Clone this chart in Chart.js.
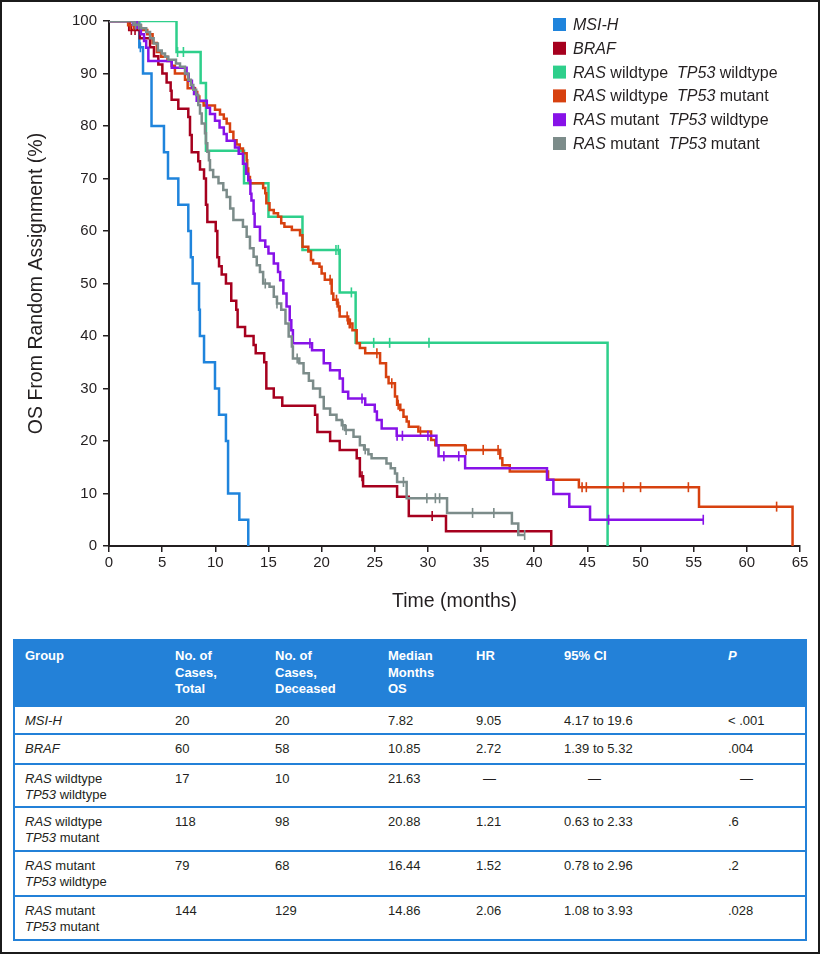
<!DOCTYPE html>
<html>
<head>
<meta charset="utf-8">
<script src="https://cdn.jsdelivr.net/npm/chart.js@4.4.0/dist/chart.umd.min.js"></script>
<style>
  html, body { margin: 0; padding: 0; background: #fff; }
  body { width: 823px; height: 955px; position: relative; overflow: hidden; font-family: "Liberation Sans", Arial, sans-serif; }
  #frame { position: absolute; left: 0; top: 0; width: 820px; height: 954px; box-sizing: border-box; border: 2px solid #1b1b1b; pointer-events: none; }
  #chartWrap { position: absolute; left: 0; top: 0; width: 823px; height: 620px; }
  table.stats { position: absolute; left: 13px; top: 639px; width: 794px; border-collapse: separate; border-spacing: 0; table-layout: fixed; font-size: 13px; color: #231f20; }
  table.stats th { background: #2381d8; color: #fff; font-weight: bold; text-align: left; vertical-align: top; padding: 9px 0 0 12px; line-height: 16.5px; box-sizing: border-box; }
  table.stats td { text-align: left; vertical-align: top; padding: 6px 0 0 12px; line-height: 16px; border-bottom: 2px solid #2381d8; box-sizing: border-box; }
  table.stats td:first-child { border-left: 2px solid #2381d8; padding-left: 10px; }
  table.stats td:last-child { border-right: 2px solid #2381d8; }
  .dash { display: inline-block; }
</style>
</head>
<body>
<div id="chartWrap"><canvas id="km" width="823" height="620"></canvas></div>

<table class="stats">
  <colgroup>
    <col style="width:150px"><col style="width:100px"><col style="width:113px"><col style="width:88px"><col style="width:88px"><col style="width:164px"><col style="width:91px">
  </colgroup>
  <tr style="height:68px">
    <th>Group</th><th>No. of<br>Cases,<br>Total</th><th>No. of<br>Cases,<br>Deceased</th><th>Median<br>Months<br>OS</th><th>HR</th><th>95% CI</th><th><i>P</i></th>
  </tr>
  <tr style="height:28px">
    <td><i>MSI-H</i></td><td>20</td><td>20</td><td>7.82</td><td>9.05</td><td>4.17 to 19.6</td><td>&lt; .001</td>
  </tr>
  <tr style="height:30px">
    <td><i>BRAF</i></td><td>60</td><td>58</td><td>10.85</td><td>2.72</td><td>1.39 to 5.32</td><td>.004</td>
  </tr>
  <tr style="height:43px">
    <td><i>RAS</i> wildtype<br><i>TP53</i> wildtype</td><td>17</td><td>10</td><td>21.63</td><td><span class="dash" style="padding-left:7px">—</span></td><td><span class="dash" style="padding-left:24px">—</span></td><td><span class="dash" style="padding-left:12px">—</span></td>
  </tr>
  <tr style="height:44px">
    <td><i>RAS</i> wildtype<br><i>TP53</i> mutant</td><td>118</td><td>98</td><td>20.88</td><td>1.21</td><td>0.63 to 2.33</td><td>.6</td>
  </tr>
  <tr style="height:45px">
    <td><i>RAS</i> mutant<br><i>TP53</i> wildtype</td><td>79</td><td>68</td><td>16.44</td><td>1.52</td><td>0.78 to 2.96</td><td>.2</td>
  </tr>
  <tr style="height:44px">
    <td><i>RAS</i> mutant<br><i>TP53</i> mutant</td><td>144</td><td>129</td><td>14.86</td><td>2.06</td><td>1.08 to 3.93</td><td>.028</td>
  </tr>
</table>

<div id="frame"></div>

<script>
// Kaplan-Meier curves: time (months) where each step happens, OS (%) after the step
var msiTime = [0, 2.85, 3.2, 4.0, 5.17, 5.55, 6.52, 7.46, 7.7, 7.87, 8.47, 8.55, 8.94, 9.97, 10.35, 11.0, 11.2, 12.26, 13.1];
var msiSurv = [100, 95, 90, 80, 75, 70, 65, 60, 55, 50, 45, 40, 35, 30, 25, 20, 10, 5, 0];
var msiCens = [2.95];

var brafTime = [0, 1.9, 2.9, 3.86, 4.23, 4.64, 5.02, 5.42, 5.8, 5.89, 6.52, 7.46, 7.62, 7.78, 8.4, 8.56, 8.94, 9.12, 9.25, 10.04,
    10.19, 10.35, 10.6, 11.0, 11.5, 11.97, 12.1, 12.8, 13.6, 13.8, 14.6, 14.8, 15.5, 16.3, 19.38, 19.6, 20.8, 21.7, 23.3, 23.6,
    23.9, 27.1, 28.2, 31.7, 41.6];
var brafSurv = [100, 98.3, 96.7, 95, 93.3, 91.7, 90, 88.3, 86.7, 85, 83.3, 81.7, 78.3, 75, 73.3, 71.7, 70, 65, 61.7, 60,
    55, 53.3, 51.7, 50, 46.7, 45, 41.7, 40, 38.3, 36.7, 35, 30, 28.3, 26.7, 25, 21.7, 20, 18.3, 16.7, 13.3,
    11.4, 9.4, 5.7, 2.8, 0];
var brafCens = [2.1, 2.45, 23.8, 30.4];

var wtwtTime = [0, 6.35, 8.62, 9.12, 12.7, 15.0, 18.2, 21.7, 23.2, 46.9];
var wtwtSurv = [100, 94.1, 88.2, 75.3, 69.1, 62.7, 56.4, 48.3, 38.7, 0];
var wtwtCens = [6.45, 7.0, 21.35, 21.57, 22.8, 24.9, 26.4, 30.1];

var wtmtTime = [0, 1.8, 3.0, 3.6, 4.1, 4.5, 4.9, 5.5, 5.9, 6.2, 7.15, 7.4, 8.09, 8.3, 8.5, 8.9, 9.97, 10.44, 10.8, 11.07,
    11.38, 11.7, 12.0, 12.3, 12.6, 12.95, 13.0, 13.1, 13.26, 14.5, 14.7, 14.8, 15.1, 15.5, 15.9, 16.2, 16.5, 17.2, 17.97, 18.2,
    18.75, 19.0, 19.2, 19.8, 20.0, 20.3, 20.95, 21.1, 21.5, 21.7, 22.5, 22.9, 23.3, 23.6, 24.1, 25.5, 26.06, 26.3, 26.9, 27.1,
    27.4, 27.7, 28.0, 28.2, 29.1, 30.3, 30.7, 33.5, 36.8, 37.0, 37.7, 41.3, 44.2, 55.5, 64.3];
var wtmtSurv = [100, 99.2, 98.3, 97.5, 95.8, 94.1, 93.2, 92.4, 91.5, 90, 88.8, 87.2, 86.5, 85.6, 84.7, 83.9, 83.1, 82.2, 81.4, 80.5,
    78.9, 77.3, 76.5, 75.7, 74.8, 73.5, 71.9, 70.3, 69.1, 68.2, 67.2, 65.3, 64, 63.4, 62.7, 61.5, 60.8, 60.2, 59.2, 57,
    56.1, 54.5, 53.8, 53.2, 51.9, 50.7, 48.1, 46.9, 45.6, 43.7, 42.4, 41.1, 38.6, 37.7, 36.7, 34.8, 32.2, 31, 28.5, 26.9,
    25.9, 24.6, 23.7, 22.7, 21.8, 20.2, 19.2, 18.3, 16.7, 15.4, 14.2, 12.6, 11.2, 7.5, 0];
var wtmtCens = [2.0, 2.3, 20.8, 21.4, 21.6, 22.4, 22.6, 22.7, 25.2, 26.6, 27.2, 29.3, 33.6, 35.2, 36.6, 44.5, 44.9, 48.4, 50.0, 54.5, 62.8];

var mtwtTime = [0, 2.6, 3.0, 3.3, 3.5, 3.7, 5.9, 7.3, 7.5, 7.8, 8.0, 8.25, 9.2, 9.5, 9.97, 10.4, 10.8, 11.07, 11.85, 12.2,
    12.6, 12.9, 13.1, 13.3, 13.4, 13.6, 13.7, 14.2, 14.7, 15.0, 15.5, 15.9, 16.1, 16.4, 16.7, 17.0, 17.15, 17.3, 19.1, 20.2,
    20.8, 21.7, 22.0, 22.5, 24.1, 25.0, 25.2, 25.65, 27.06, 30.8, 31.0, 33.5, 41.2, 41.8, 43.3, 45.25, 55.9];
var mtwtSurv = [100, 98.7, 97.5, 96.2, 94.9, 92.4, 91.1, 89.9, 88.6, 87.3, 86.1, 84.8, 83.5, 82.3, 81, 79.7, 78.5, 77.2, 75.9, 74.7,
    72.8, 70.9, 69.6, 67.1, 65.8, 63.3, 60.8, 58.2, 57, 55.7, 53.8, 52.2, 50.6, 48.1, 45.6, 43, 41.1, 38.6, 37.3, 34.8,
    33.5, 31.9, 29.4, 28.1, 26.9, 25.6, 24, 22.4, 21, 19.2, 17.1, 14.8, 12.6, 9.9, 7.5, 5, 5];
var mtwtCens = [2.2, 2.5, 18.9, 23.8, 27.1, 27.6, 30.0, 31.5, 32.9, 47.0, 55.9];

var mtmtTime = [0, 2.3, 3.0, 3.5, 3.86, 4.2, 4.6, 4.96, 5.27, 5.58, 6.3, 6.68, 7.15, 7.46, 7.7, 7.93, 8.2, 8.4, 8.56, 8.72,
    9.03, 9.12, 9.25, 9.4, 9.5, 9.8, 10.3, 10.75, 11.07, 11.4, 11.7, 12.6, 12.95, 13.26, 13.6, 13.9, 14.2, 14.5, 15.1, 15.5,
    15.8, 16.2, 16.6, 16.9, 17.2, 17.3, 17.9, 18.3, 18.8, 19.2, 19.85, 20.2, 20.8, 21.4, 21.9, 22.2, 23.0, 23.6, 24.0, 24.4,
    24.7, 26.1, 26.5, 26.9, 27.1, 28.0, 31.8, 37.9, 38.5, 39.1];
var mtmtSurv = [100, 99.3, 98.6, 97.9, 96.7, 95.7, 94.4, 93.8, 93.2, 92.6, 91.9, 91.3, 90, 88.8, 87.8, 86.9, 85.9, 84, 82.4, 80.5,
    78.6, 76.7, 75.1, 73.5, 71.6, 70.3, 69.1, 67.8, 66.5, 64.3, 62.1, 60.8, 58.9, 56.7, 55.1, 53.5, 52.2, 50, 49.4, 47.5,
    46.2, 45, 42.4, 39.9, 38, 35.7, 34.8, 32.9, 31.5, 30, 28.4, 26.2, 25, 24, 23, 22.1, 20.8, 19.2, 18.4, 17.5,
    16.7, 15.7, 14.8, 13.8, 12.2, 9.1, 6.3, 4.3, 2.1, 2.1];
var mtmtCens = [2.5, 2.8, 14.7, 15.8, 17.7, 22.0, 22.3, 24.1, 27.7, 29.9, 30.7, 31.1, 34.2, 36.2, 39.1];

var xTicks = [0, 5, 10, 15, 20, 25, 30, 35, 40, 45, 50, 55, 60, 65];
var yTicks = [0, 10, 20, 30, 40, 50, 60, 70, 80, 90, 100];

// legend labels, pieces in italics where the gene name is
var groupLabels = [
    [['MSI-H', true]],
    [['BRAF', true]],
    [['RAS', true], [' wildtype  ', false], ['TP53', true], [' wildtype', false]],
    [['RAS', true], [' wildtype  ', false], ['TP53', true], [' mutant', false]],
    [['RAS', true], [' mutant  ', false], ['TP53', true], [' wildtype', false]],
    [['RAS', true], [' mutant  ', false], ['TP53', true], [' mutant', false]]
];
var groupColors = ['#1f84dc', '#a6001e', '#2ecf8b', '#d7410f', '#8712e8', '#7c8c8a'];

var groups = [
    {time: msiTime, surv: msiSurv, cens: msiCens},
    {time: brafTime, surv: brafSurv, cens: brafCens},
    {time: wtwtTime, surv: wtwtSurv, cens: wtwtCens},
    {time: wtmtTime, surv: wtmtSurv, cens: wtmtCens},
    {time: mtwtTime, surv: mtwtSurv, cens: mtwtCens},
    {time: mtmtTime, surv: mtmtSurv, cens: mtmtCens}
];

function survAt(g, t) {
    var s = g.surv[0];
    for (var i = 0; i < g.time.length; i++) {
        if (g.time[i] <= t) s = g.surv[i];
    }
    return s;
}

var datasets = [];
// draw order: grey at the back, blue in front
var drawOrder = [5, 4, 3, 2, 1, 0];
groups.forEach(function(g, k) {
    var pts = g.time.map(function(t, i) { return {x: t, y: g.surv[i]}; });
    datasets.push({
        data: pts,
        borderColor: groupColors[k],
        borderWidth: 2.5,
        stepped: true,
        pointRadius: 0,
        fill: false,
        order: drawOrder[k] * 2 + 1
    });
    datasets.push({
        data: g.cens.map(function(t) { return {x: t, y: survAt(g, t)}; }),
        showLine: false,
        pointStyle: 'line',
        rotation: 90,
        pointRadius: 5,
        pointBorderWidth: 1.6,
        pointBorderColor: groupColors[k],
        borderColor: groupColors[k],
        order: drawOrder[k] * 2
    });
});

var FONT = '"Liberation Sans", Arial, sans-serif';

var legendPlugin = {
    id: 'kmLegend',
    afterDraw: function(chart) {
        var ctx = chart.ctx;
        ctx.save();
        ctx.textBaseline = 'middle';
        groupLabels.forEach(function(parts, i) {
            var cy = 24.5 + i * 23.8;
            ctx.fillStyle = groupColors[i];
            ctx.fillRect(553, cy - 6.5, 13, 13);
            var x = 573;
            parts.forEach(function(p) {
                ctx.font = (p[1] ? 'italic ' : '') + '16px ' + FONT;
                ctx.fillStyle = '#231f20';
                ctx.fillText(p[0], x, cy + 1);
                x += ctx.measureText(p[0]).width;
            });
        });
        ctx.restore();
    }
};

new Chart(document.getElementById('km'), {
    type: 'line',
    data: { datasets: datasets },
    plugins: [legendPlugin],
    options: {
        responsive: false,
        animation: false,
        events: [],
        layout: { padding: { top: 21, right: 23, left: 0, bottom: 0 } },
        plugins: { legend: { display: false }, tooltip: { enabled: false } },
        scales: {
            x: {
                type: 'linear',
                min: 0,
                max: 65,
                afterBuildTicks: function(s) { s.ticks = xTicks.map(function(v) { return {value: v}; }); },
                ticks: { color: '#231f20', font: { size: 15, family: FONT }, padding: 2, maxRotation: 0, autoSkip: false },
                grid: { display: true, drawOnChartArea: false, drawTicks: true, tickLength: 6, color: '#231f20', lineWidth: 1.5 },
                border: { display: true, color: '#231f20', width: 2 },
                title: { display: true, text: 'Time (months)', color: '#231f20', font: { size: 19.5, family: FONT }, padding: { top: 0, bottom: 7 } },
                afterFit: function(s) { s.height = 74; }
            },
            y: {
                type: 'linear',
                min: 0,
                max: 100,
                afterBuildTicks: function(s) { s.ticks = yTicks.map(function(v) { return {value: v}; }); },
                ticks: { color: '#231f20', font: { size: 15, family: FONT }, padding: 6, autoSkip: false },
                grid: { display: true, drawOnChartArea: false, drawTicks: true, tickLength: 6, color: '#231f20', lineWidth: 1.5 },
                border: { display: true, color: '#231f20', width: 2 },
                title: { display: true, text: 'OS From Random Assignment (%)', color: '#231f20', font: { size: 19.5, family: FONT }, padding: { top: 25, bottom: 0 } },
                afterFit: function(s) { s.width = 109; }
            }
        }
    }
});
</script>
</body>
</html>
